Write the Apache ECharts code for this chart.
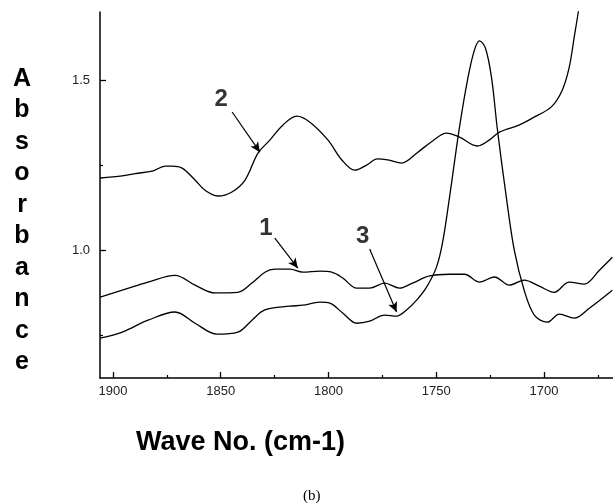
<!DOCTYPE html>
<html>
<head>
<meta charset="utf-8">
<script src="https://cdn.jsdelivr.net/npm/echarts@6/dist/echarts.min.js"></script>
<style>
  html, body { margin: 0; padding: 0; background: #fff; }
  #chart { width: 613px; height: 503px; }
</style>
</head>
<body>
<div id="chart"></div>
<script>
// wave numbers (cm-1) and absorbance
const wave2 = [1905.9, 1895.7, 1889.7, 1881.8, 1875.8, 1872.5, 1867.9, 1861.9, 1857.3, 1851.3, 1844.8, 1838.7, 1832.7, 1827.1, 1821.1, 1814.7, 1808.6, 1800.3, 1793.8, 1787.8, 1782.3, 1777.2, 1772.5, 1766.0, 1759.1, 1751.7, 1745.2, 1739.2, 1730.9, 1725.3, 1720.7, 1711.4, 1705.4, 1696.6, 1691.5, 1688.3, 1686.0, 1684.1, 1683.0];
const abs2  = [1.212, 1.218, 1.225, 1.232, 1.247, 1.247, 1.241, 1.206, 1.176, 1.159, 1.171, 1.206, 1.285, 1.324, 1.368, 1.394, 1.376, 1.324, 1.265, 1.235, 1.250, 1.268, 1.265, 1.256, 1.285, 1.321, 1.344, 1.332, 1.306, 1.324, 1.347, 1.368, 1.388, 1.421, 1.471, 1.538, 1.626, 1.700, 1.750];

const wave1 = [1905.9, 1895.7, 1883.7, 1871.2, 1861.9, 1852.6, 1842.0, 1835.5, 1829.5, 1824.9, 1817.9, 1811.9, 1804.0, 1798.5, 1793.4, 1786.9, 1780.9, 1774.0, 1767.0, 1761.0, 1753.1, 1743.9, 1736.9, 1729.9, 1723.0, 1716.1, 1709.2, 1702.2, 1695.3, 1688.3, 1681.4, 1674.3, 1668.3];
const abs1  = [0.862, 0.882, 0.906, 0.926, 0.897, 0.874, 0.876, 0.903, 0.935, 0.944, 0.944, 0.935, 0.938, 0.935, 0.918, 0.888, 0.888, 0.903, 0.888, 0.903, 0.924, 0.929, 0.929, 0.906, 0.921, 0.897, 0.912, 0.894, 0.876, 0.906, 0.900, 0.941, 0.979];

const wave3 = [1905.9, 1895.7, 1883.7, 1871.2, 1861.9, 1851.7, 1842.0, 1835.5, 1829.5, 1817.9, 1811.9, 1804.0, 1799.4, 1793.4, 1786.9, 1780.9, 1774.0, 1768.4, 1763.8, 1759.1, 1754.5, 1749.9, 1747.1, 1743.9, 1739.2, 1735.5, 1732.3, 1729.9, 1727.2, 1724.4, 1721.6, 1717.5, 1713.8, 1709.2, 1704.5, 1698.5, 1692.9, 1686.0, 1679.0, 1668.3];
const abs3  = [0.741, 0.759, 0.794, 0.818, 0.785, 0.753, 0.759, 0.794, 0.824, 0.835, 0.838, 0.847, 0.844, 0.815, 0.785, 0.791, 0.809, 0.806, 0.824, 0.853, 0.891, 0.950, 1.021, 1.153, 1.362, 1.500, 1.588, 1.615, 1.594, 1.509, 1.353, 1.156, 1.000, 0.882, 0.809, 0.788, 0.812, 0.800, 0.829, 0.882];

// axis ticks
const xLabels = [1900, 1850, 1800, 1750, 1700];
const xMinor = [1875, 1825, 1775, 1725, 1675];
const yLabels = [1.0, 1.5];
const yMinor = [0.75, 1.25];

// curve labels: [name, wave, abs] and arrows [fromWave, fromAbs, toWave, toAbs]
const curveTags = [['2', 1849.8, 1.444], ['1', 1829.0, 1.065], ['3', 1784.1, 1.041]];
const arrows = [
  [1844.7, 1.406, 1831.8, 1.288],
  [1824.9, 1.035, 1814.2, 0.947],
  [1780.9, 1.003, 1768.4, 0.818]
];

const X_MIN = 1668, X_MAX = 1906;
const Y_MIN = 0.624, Y_MAX = 1.70;

function zip(xs, ys) {
  return xs.map((x, i) => [x, ys[i]]);
}

const chart = echarts.init(document.getElementById('chart'));

const lineStyle = { color: '#000', width: 1.3 };

chart.setOption({
  animation: false,
  backgroundColor: '#fff',
  textStyle: { fontFamily: 'Liberation Sans, Arial, sans-serif' },
  grid: { left: 100, right: 0, top: 12, bottom: 125 },
  xAxis: [{
    type: 'value',
    inverse: true,
    min: X_MIN,
    max: X_MAX,
    splitLine: { show: false },
    axisLine: { lineStyle: { color: '#000', width: 1.5 } },
    axisTick: { inside: true, length: 6, customValues: xLabels, lineStyle: { color: '#000', width: 1.3 } },
    axisLabel: { customValues: xLabels, color: '#222', fontSize: 13, margin: 7, formatter: v => String(v) },
    name: 'Wave No. (cm-1)',
    nameLocation: 'middle',
    nameGap: 51,
    nameTextStyle: { fontSize: 27, fontWeight: 'bold', color: '#000', padding: [0, 232, 0, 0] }
  }, {
    // minor ticks only
    type: 'value',
    inverse: true,
    position: 'bottom',
    min: X_MIN,
    max: X_MAX,
    splitLine: { show: false },
    axisLine: { show: false },
    axisTick: { inside: true, length: 3, customValues: xMinor, lineStyle: { color: '#000', width: 1.2 } },
    axisLabel: { show: false }
  }],
  yAxis: [{
    type: 'value',
    min: Y_MIN,
    max: Y_MAX,
    splitLine: { show: false },
    axisLine: { show: true, lineStyle: { color: '#000', width: 1.5 } },
    axisTick: { show: true, inside: true, length: 6, customValues: yLabels, lineStyle: { color: '#000', width: 1.3 } },
    axisLabel: { customValues: yLabels, color: '#222', fontSize: 13, margin: 10, formatter: v => v.toFixed(1) }
  }, {
    type: 'value',
    position: 'left',
    min: Y_MIN,
    max: Y_MAX,
    splitLine: { show: false },
    axisLine: { show: false },
    axisTick: { show: true, inside: true, length: 3, customValues: yMinor, lineStyle: { color: '#000', width: 1.2 } },
    axisLabel: { show: false }
  }],
  series: [{
    name: '2',
    type: 'line',
    data: zip(wave2, abs2),
    smooth: 0.35,
    showSymbol: false,
    clip: true,
    lineStyle: lineStyle
  }, {
    name: '1',
    type: 'line',
    data: zip(wave1, abs1),
    smooth: 0.35,
    showSymbol: false,
    clip: true,
    lineStyle: lineStyle
  }, {
    name: '3',
    type: 'line',
    data: zip(wave3, abs3),
    smooth: 0.35,
    showSymbol: false,
    clip: true,
    lineStyle: lineStyle
  }, {
    // curve numbers and arrows
    name: 'tags',
    type: 'scatter',
    data: curveTags.map(t => ({ value: [t[1], t[2]], name: t[0] })),
    symbolSize: 0,
    label: {
      show: true,
      position: 'inside',
      formatter: p => p.name,
      fontSize: 24,
      fontWeight: 'bold',
      color: '#000'
    },
    markLine: {
      silent: true,
      symbol: ['none', 'arrow'],
      symbolSize: [7, 10],
      label: { show: false },
      lineStyle: { color: '#000', width: 1.2, type: 'solid' },
      data: arrows.map(a => [{ coord: [a[0], a[1]] }, { coord: [a[2], a[3]] }])
    }
  }],
  graphic: [{
    // vertical y axis title, one letter per line
    type: 'text',
    x: 22,
    y: 63,
    style: {
      text: 'A\nb\ns\no\nr\nb\na\nn\nc\ne',
      fontSize: 25,
      fontWeight: 'bold',
      lineHeight: 31.5,
      align: 'center',
      verticalAlign: 'top',
      fontFamily: 'Liberation Sans, Arial, sans-serif',
      fill: '#000'
    }
  }, {
    type: 'text',
    left: 303,
    top: 489,
    style: { text: '(b)', fontSize: 15, fontFamily: 'Liberation Serif, Times New Roman, serif', fill: '#000' }
  }]
});
</script>
</body>
</html>
